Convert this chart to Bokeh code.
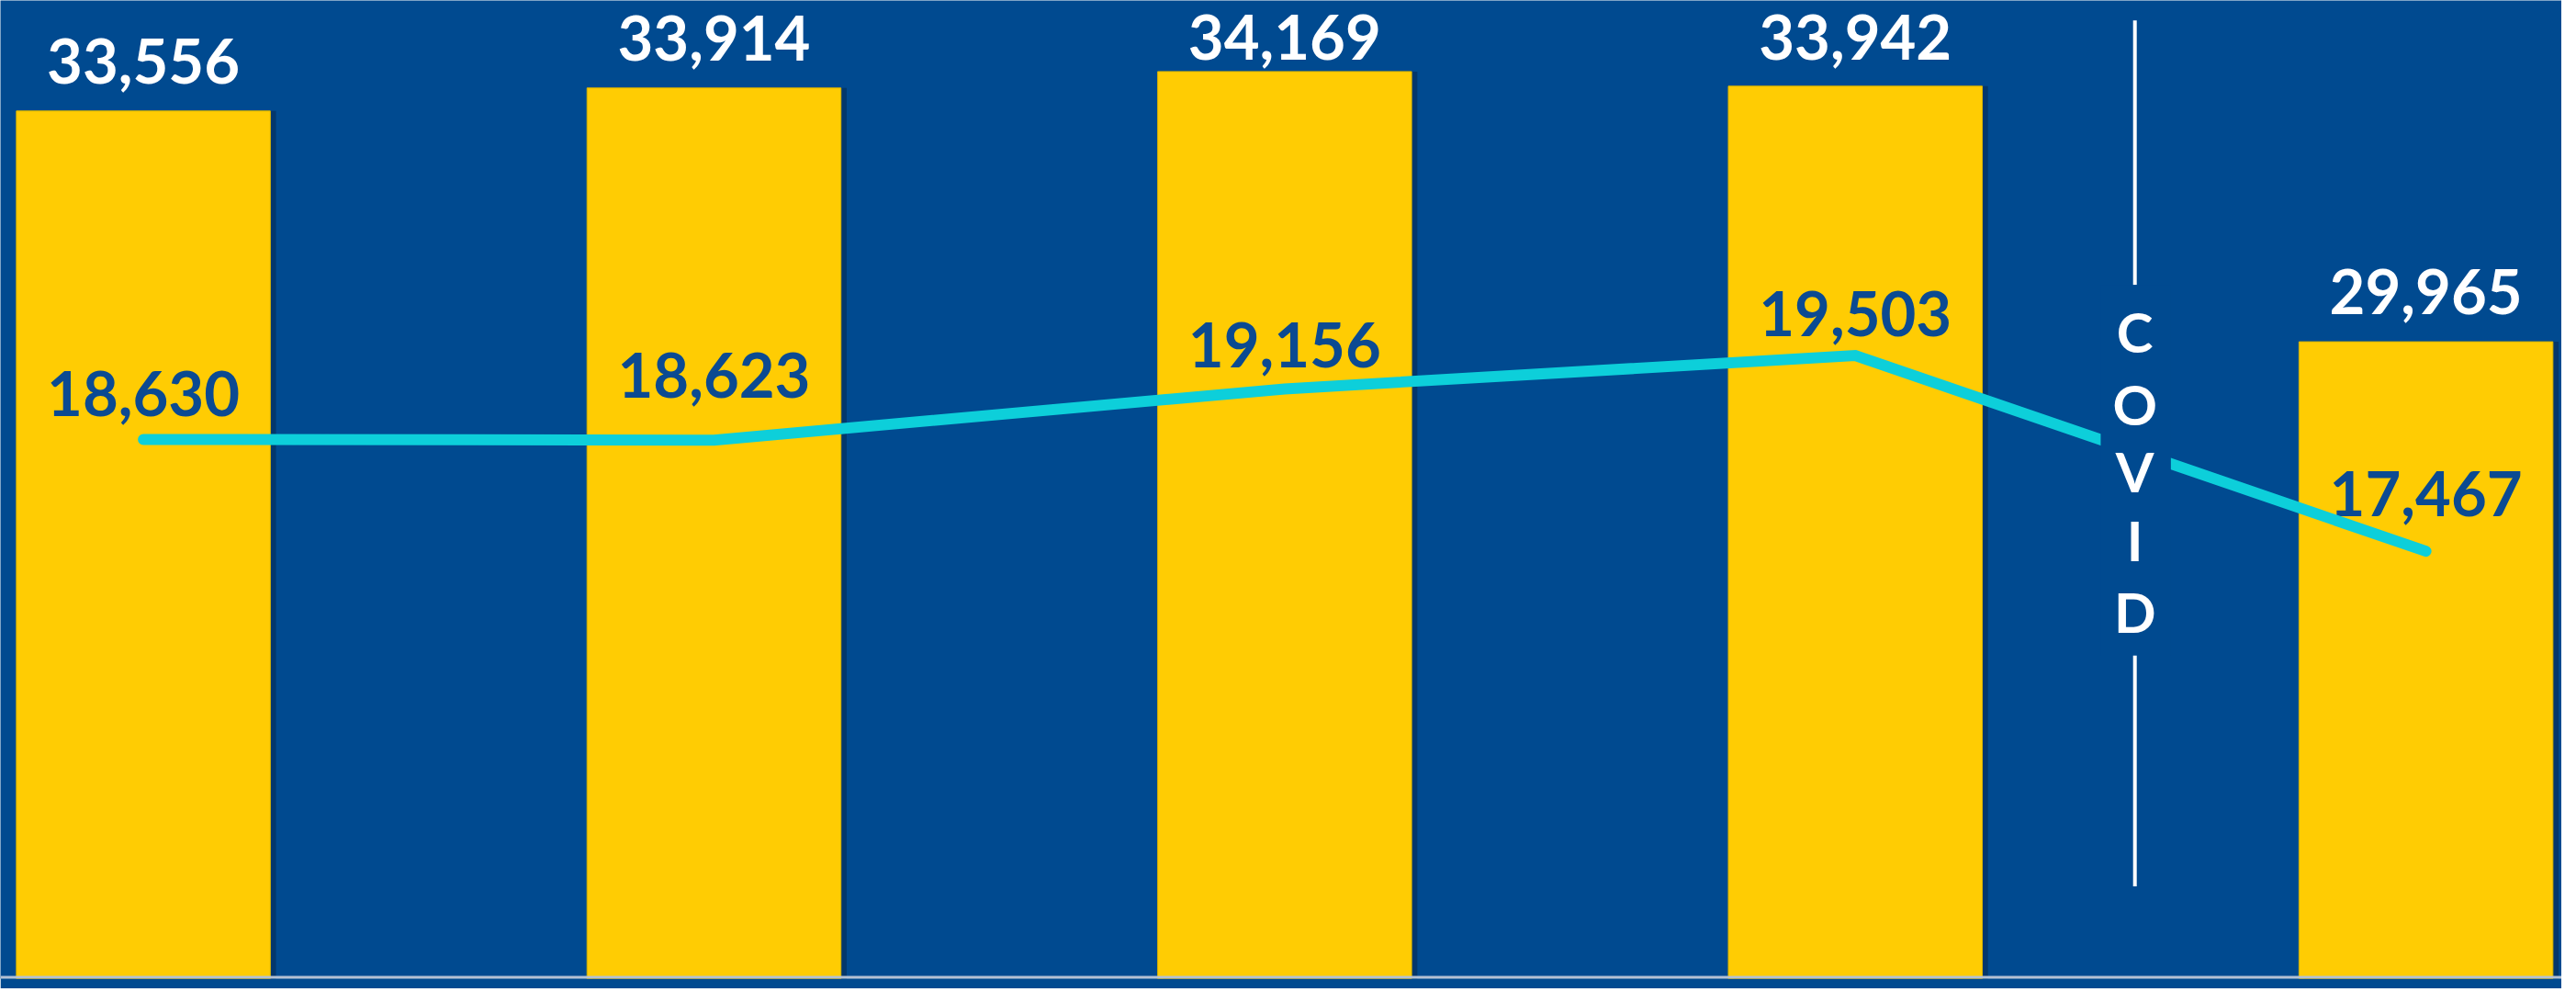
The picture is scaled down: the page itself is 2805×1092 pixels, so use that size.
import numpy as np
from bokeh.plotting import figure
from bokeh.models import Range1d, Span
from bokeh.core.properties import value
from bokeh.embed import file_html
from bokeh.resources import INLINE

# ---- data ----
periods = ["P1", "P2", "P3", "P4", "P5"]
bar_values = [33556, 33914, 34169, 33942, 29965]
line_values = [18630, 18623, 19156, 19503, 17467]
bar_labels = ["33,556", "33,914", "34,169", "33,942", "29,965"]
line_labels = ["18,630", "18,623", "19,156", "19,503", "17,467"]
covid_letters = ["C", "O", "V", "I", "D"]

# ---- style / layout ----
BG = "#004A90"
YELLOW = "#FFCC03"
CYAN = "#0DCFDA"
LABEL_BLUE = "#0B4A92"
W, H = 2789, 1076
BOTTOM_STRIP = 11
REF_FRAME_H = 1080.0
TEXT_SHIFT = 25  # px correction for text baseline placement

y0, y1 = 20056, 35275          # primary (bars)
s0, s1 = 13019, 23198          # secondary (line)
upp = (y1 - y0) / REF_FRAME_H   # primary units per reference px
ups = (s1 - s0) / REF_FRAME_H   # secondary units per reference px

xs = np.arange(len(periods), dtype=float)

p = figure(width=W, height=H, x_range=Range1d(-0.2504, 4.238), y_range=Range1d(y0, y1),
           x_axis_location=None, y_axis_location=None,
           toolbar_location=None, output_backend="svg",
           min_border=0, min_border_bottom=BOTTOM_STRIP,
           background_fill_color=BG, border_fill_color=BG, outline_line_color=None)
p.grid.visible = False
p.extra_y_ranges = {"line": Range1d(s0, s1)}

bw = 0.445
# bar shadows
p.vbar(x=xs + 0.010, top=bar_values, bottom=y0, width=bw, fill_color="#06284f",
       fill_alpha=0.55, line_color=None)
# bars
p.vbar(x=xs, top=bar_values, bottom=y0, width=bw, fill_color=YELLOW,
       line_color="#d8b400", line_width=1)

# bar value labels (kept below the top edge)
bar_label_y = np.minimum(np.array(bar_values) + (30 + TEXT_SHIFT) * upp,
                         y1 - (66 - TEXT_SHIFT) * upp)
p.text(x=xs, y=bar_label_y, text=bar_labels, text_font=value("Lato"),
       text_font_style="bold", text_font_size="67px", text_color="white",
       text_align="center", text_baseline="alphabetic")

# line labels
gaps_px = np.array([26, 47, 24, 21, 38]) + TEXT_SHIFT
line_label_y = np.array(line_values) + gaps_px * ups
p.text(x=xs, y=line_label_y, text=line_labels, text_font=value("Lato"),
       text_font_style="bold", text_font_size="67px", text_color=LABEL_BLUE,
       text_align="center", text_baseline="alphabetic", y_range_name="line")

# line
p.line(x=xs, y=line_values, line_color=CYAN, line_width=12, line_cap="round",
       line_join="miter", y_range_name="line")

# COVID divider
cx = 3.49
p.segment(x0=[cx, cx], y0=[y1 - 22 * upp, y1 - 723 * upp], x1=[cx, cx],
          y1=[y1 - 314 * upp, y1 - 978 * upp], line_color="white", line_width=4)
# mask behind letters
p.quad(left=[3.430], right=[3.553], top=[y1 - 314 * upp], bottom=[y1 - 723 * upp],
       fill_color=BG, line_color=None)
letter_y = [y1 - v * upp for v in (366, 446, 520, 596, 675)]
p.text(x=[cx] * len(covid_letters), y=letter_y, text=covid_letters,
       text_font=value("Lato"), text_font_style="bold", text_font_size="60px",
       text_color="white", text_align="center", text_baseline="middle")

# baseline
p.add_layout(Span(location=y0 + 1.5 * upp, dimension="width", line_color="#B4C1D3",
                  line_width=3))

open("out.html", "w").write(file_html(p, INLINE))
